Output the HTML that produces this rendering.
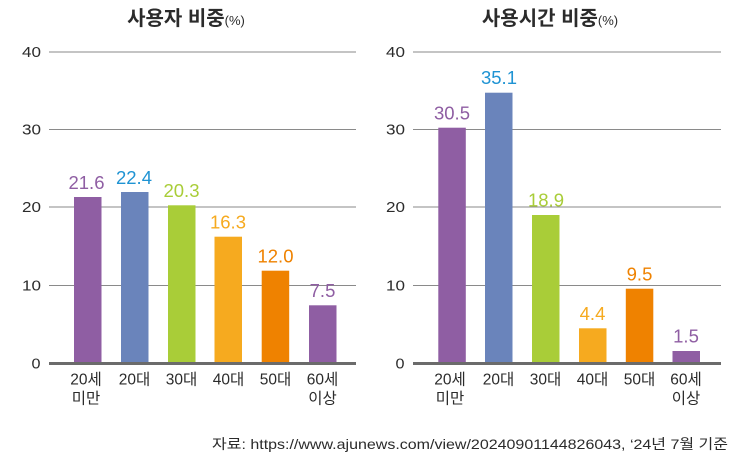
<!DOCTYPE html>
<html><head><meta charset="utf-8"><style>
html,body{margin:0;padding:0;background:#fff;}
svg{display:block;}
text{font-family:"Liberation Sans","Noto Sans CJK KR",sans-serif;}
</style></head><body>
<svg width="743" height="453" viewBox="0 0 743 453" xmlns="http://www.w3.org/2000/svg">
<!-- Titles -->
<text x="186" y="25" text-anchor="middle" font-size="20" font-weight="bold" fill="#2b2b2b">사용자 비중<tspan font-size="13" font-weight="normal">(%)</tspan></text>
<text x="550" y="25" text-anchor="middle" font-size="20" font-weight="bold" fill="#2b2b2b">사용시간 비중<tspan font-size="13" font-weight="normal">(%)</tspan></text>

<!-- grid -->
<g stroke="#8a8a8a" stroke-width="1">
<line x1="49" y1="52" x2="356" y2="52"/>
<line x1="49" y1="129.5" x2="356" y2="129.5"/>
<line x1="49" y1="207" x2="356" y2="207"/>
<line x1="49" y1="285.5" x2="356" y2="285.5"/>
<line x1="413" y1="52" x2="721" y2="52"/>
<line x1="413" y1="129.5" x2="721" y2="129.5"/>
<line x1="413" y1="207" x2="721" y2="207"/>
<line x1="413" y1="285.5" x2="721" y2="285.5"/>
</g>
<g font-size="14.5" fill="#2b2b2b">
<text x="22" y="57" textLength="19" lengthAdjust="spacingAndGlyphs">40</text>
<text x="22" y="134.5" textLength="19" lengthAdjust="spacingAndGlyphs">30</text>
<text x="22" y="212" textLength="19" lengthAdjust="spacingAndGlyphs">20</text>
<text x="22" y="290.5" textLength="19" lengthAdjust="spacingAndGlyphs">10</text>
<text x="31.5" y="368.5" textLength="9" lengthAdjust="spacingAndGlyphs">0</text>
<text x="386" y="57" textLength="19" lengthAdjust="spacingAndGlyphs">40</text>
<text x="386" y="134.5" textLength="19" lengthAdjust="spacingAndGlyphs">30</text>
<text x="386" y="212" textLength="19" lengthAdjust="spacingAndGlyphs">20</text>
<text x="386" y="290.5" textLength="19" lengthAdjust="spacingAndGlyphs">10</text>
<text x="395.5" y="368.5" textLength="9" lengthAdjust="spacingAndGlyphs">0</text>
</g>

<!-- Left bars -->
<rect x="74" y="197" width="27.5" height="166" fill="#8f5ea3"/>
<rect x="121" y="192" width="27.5" height="171" fill="#6a84bb"/>
<rect x="168" y="205.3" width="27.5" height="158" fill="#a9cd38"/>
<rect x="214.5" y="236.7" width="27.5" height="127" fill="#f6aa1f"/>
<rect x="261.7" y="270.7" width="27.5" height="93" fill="#ef8200"/>
<rect x="309" y="305.3" width="27.5" height="58" fill="#8f5ea3"/>

<!-- Right bars -->
<rect x="438.3" y="127.7" width="27.5" height="236" fill="#8f5ea3"/>
<rect x="485" y="92.7" width="27.5" height="271" fill="#6a84bb"/>
<rect x="532" y="215" width="27.5" height="148.5" fill="#a9cd38"/>
<rect x="579" y="328.3" width="27.5" height="35" fill="#f6aa1f"/>
<rect x="625.8" y="288.7" width="27.5" height="75" fill="#ef8200"/>
<rect x="672.5" y="351" width="27.5" height="12.5" fill="#8f5ea3"/>

<!-- baselines -->
<rect x="49" y="362" width="307" height="3" fill="#6b6b6b"/>
<rect x="413" y="362" width="308" height="3" fill="#6b6b6b"/>

<!-- value labels -->
<g font-size="18.5" text-anchor="middle">
<text x="86.5" y="189" fill="#8f5ea3">21.6</text>
<text x="134" y="184" fill="#1f93d3">22.4</text>
<text x="181.5" y="197" fill="#a9cd38">20.3</text>
<text x="228" y="228.5" fill="#f6aa1f">16.3</text>
<text x="275.5" y="262.5" fill="#ef8200">12.0</text>
<text x="322.5" y="297" fill="#8f5ea3">7.5</text>

<text x="452" y="119.5" fill="#8f5ea3">30.5</text>
<text x="499" y="84" fill="#1f93d3">35.1</text>
<text x="546" y="206.5" fill="#a9cd38">18.9</text>
<text x="592.5" y="320" fill="#f6aa1f">4.4</text>
<text x="639.5" y="280.5" fill="#ef8200">9.5</text>
<text x="686" y="342.5" fill="#8f5ea3">1.5</text>
</g>

<!-- x labels -->
<g font-size="15.5" fill="#2b2b2b" text-anchor="middle">
<text x="86" y="384.5">20세</text>
<text x="86" y="403.5">미만</text>
<text x="134.5" y="384.5">20대</text>
<text x="181.5" y="384.5">30대</text>
<text x="228.5" y="384.5">40대</text>
<text x="275.5" y="384.5">50대</text>
<text x="322.5" y="384.5">60세</text>
<text x="322.5" y="403.5">이상</text>

<text x="450" y="384.5">20세</text>
<text x="450" y="403.5">미만</text>
<text x="498.5" y="384.5">20대</text>
<text x="545.5" y="384.5">30대</text>
<text x="592.5" y="384.5">40대</text>
<text x="639.5" y="384.5">50대</text>
<text x="686" y="384.5">60세</text>
<text x="686" y="403.5">이상</text>
</g>

<!-- footer -->
<text x="212" y="449" font-size="14" fill="#2b2b2b" textLength="516" lengthAdjust="spacingAndGlyphs">자료: https://www.ajunews.com/view/20240901144826043, ‘24년 7월 기준</text>
</svg>
</body></html>
